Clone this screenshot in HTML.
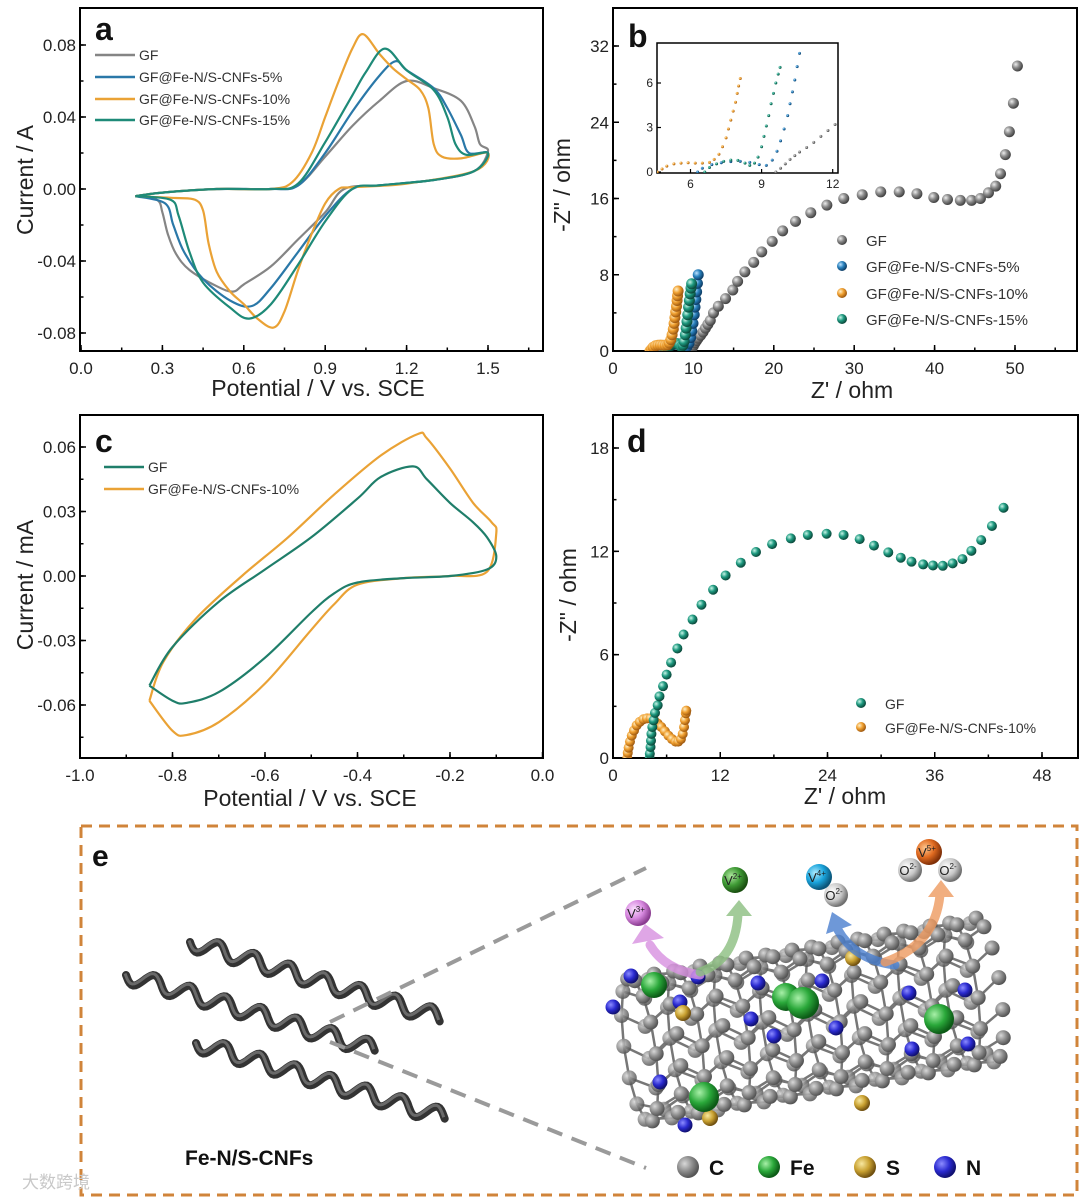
<!DOCTYPE html>
<html><head><meta charset="utf-8">
<style>
html,body{margin:0;padding:0;background:#fff;}
svg{display:block;font-family:"Liberation Sans",Arial,sans-serif;}
</style></head>
<body>
<svg id="fig" width="1080" height="1199" viewBox="0 0 1080 1199" xmlns="http://www.w3.org/2000/svg">
<defs>
<radialGradient id="g-gray" cx="35%" cy="35%" r="65%"><stop offset="0" stop-color="#eee"/><stop offset="0.5" stop-color="#8a8a8a"/><stop offset="1" stop-color="#444"/></radialGradient>
<radialGradient id="g-blue" cx="35%" cy="35%" r="65%"><stop offset="0" stop-color="#bfe3ff"/><stop offset="0.5" stop-color="#2a82be"/><stop offset="1" stop-color="#0d3d66"/></radialGradient>
<radialGradient id="g-orange" cx="35%" cy="35%" r="65%"><stop offset="0" stop-color="#fff0c8"/><stop offset="0.5" stop-color="#f0a030"/><stop offset="1" stop-color="#a05a10"/></radialGradient>
<radialGradient id="g-teal" cx="35%" cy="35%" r="65%"><stop offset="0" stop-color="#c8f5e8"/><stop offset="0.5" stop-color="#1e9a80"/><stop offset="1" stop-color="#0b4a3c"/></radialGradient>
<radialGradient id="g-c" cx="35%" cy="35%" r="65%"><stop offset="0" stop-color="#d8d8d8"/><stop offset="0.55" stop-color="#8c8c8c"/><stop offset="1" stop-color="#555"/></radialGradient>
<radialGradient id="g-n" cx="35%" cy="35%" r="65%"><stop offset="0" stop-color="#8c8cff"/><stop offset="0.55" stop-color="#2a2ad0"/><stop offset="1" stop-color="#101070"/></radialGradient>
<radialGradient id="g-fe" cx="35%" cy="35%" r="65%"><stop offset="0" stop-color="#a8f0a8"/><stop offset="0.55" stop-color="#2aa83a"/><stop offset="1" stop-color="#0c5a16"/></radialGradient>
<radialGradient id="g-s" cx="35%" cy="35%" r="65%"><stop offset="0" stop-color="#f8e8a0"/><stop offset="0.55" stop-color="#c8a030"/><stop offset="1" stop-color="#705010"/></radialGradient>
<radialGradient id="g-v3" cx="35%" cy="35%" r="65%"><stop offset="0" stop-color="#fbe0ff"/><stop offset="0.55" stop-color="#d88ae0"/><stop offset="1" stop-color="#8a3c90"/></radialGradient>
<radialGradient id="g-v2" cx="35%" cy="35%" r="65%"><stop offset="0" stop-color="#b0e8a0"/><stop offset="0.55" stop-color="#3f9a35"/><stop offset="1" stop-color="#1a5010"/></radialGradient>
<radialGradient id="g-v4" cx="35%" cy="35%" r="65%"><stop offset="0" stop-color="#b0ecff"/><stop offset="0.55" stop-color="#1aa4dc"/><stop offset="1" stop-color="#0a5478"/></radialGradient>
<radialGradient id="g-v5" cx="35%" cy="35%" r="65%"><stop offset="0" stop-color="#ffc890"/><stop offset="0.55" stop-color="#e06a20"/><stop offset="1" stop-color="#803008"/></radialGradient>
<radialGradient id="g-o" cx="35%" cy="35%" r="65%"><stop offset="0" stop-color="#ffffff"/><stop offset="0.6" stop-color="#c8c8c8"/><stop offset="1" stop-color="#707070"/></radialGradient>
<clipPath id="clipA"><rect x="80" y="8" width="463" height="343"/></clipPath>
<clipPath id="clipB"><rect x="613" y="8" width="464" height="343"/></clipPath>
<clipPath id="clipI"><rect x="657" y="43" width="181" height="130"/></clipPath>
<clipPath id="clipC"><rect x="80" y="415" width="463" height="343"/></clipPath>
<clipPath id="clipD"><rect x="613" y="415" width="465" height="343"/></clipPath>
</defs>
</svg>
<script>
// ---------- Panel a data (Potential V, Current A) ----------
const aGF = [[0.2,-0.004],[0.3,-0.002],[0.5,0.0],[0.7,0.0],[0.8,0.002],[0.9,0.018],[1.0,0.035],[1.1,0.049],[1.2,0.06],[1.3,0.056],[1.4,0.049],[1.45,0.035],[1.47,0.025],[1.5,0.021],[1.45,0.01],[1.3,0.005],[1.1,0.002],[0.97,0.0],[0.9,-0.013],[0.8,-0.028],[0.7,-0.043],[0.6,-0.053],[0.56,-0.057],[0.5,-0.054],[0.4,-0.045],[0.35,-0.036],[0.32,-0.025],[0.3,-0.013],[0.28,-0.006],[0.2,-0.004]];
const a5 = [[0.2,-0.004],[0.3,-0.002],[0.5,0.0],[0.7,0.0],[0.8,0.002],[0.9,0.02],[1.0,0.043],[1.1,0.063],[1.16,0.071],[1.2,0.066],[1.3,0.056],[1.35,0.045],[1.4,0.03],[1.43,0.02],[1.5,0.02],[1.45,0.01],[1.3,0.005],[1.1,0.002],[1.0,0.0],[0.9,-0.015],[0.8,-0.035],[0.7,-0.055],[0.63,-0.065],[0.55,-0.062],[0.45,-0.05],[0.38,-0.035],[0.34,-0.02],[0.31,-0.008],[0.2,-0.004]];
const a10 = [[0.2,-0.004],[0.3,-0.002],[0.5,0.0],[0.7,0.0],[0.78,0.004],[0.85,0.02],[0.9,0.04],[0.95,0.06],[1.0,0.078],[1.04,0.086],[1.1,0.075],[1.15,0.067],[1.2,0.061],[1.25,0.055],[1.28,0.045],[1.3,0.025],[1.33,0.018],[1.4,0.017],[1.5,0.02],[1.45,0.01],[1.2,0.003],[1.0,0.001],[0.95,0.0],[0.9,-0.008],[0.85,-0.025],[0.8,-0.045],[0.75,-0.068],[0.71,-0.077],[0.65,-0.072],[0.6,-0.064],[0.55,-0.057],[0.5,-0.046],[0.47,-0.03],[0.45,-0.012],[0.42,-0.006],[0.35,-0.005],[0.2,-0.004]];
const a15 = [[0.2,-0.004],[0.3,-0.002],[0.5,0.0],[0.7,0.0],[0.8,0.003],[0.9,0.026],[1.0,0.052],[1.05,0.065],[1.12,0.078],[1.2,0.066],[1.3,0.055],[1.35,0.04],[1.38,0.025],[1.42,0.019],[1.5,0.02],[1.45,0.01],[1.3,0.005],[1.1,0.002],[1.0,0.0],[0.9,-0.018],[0.8,-0.042],[0.7,-0.064],[0.62,-0.072],[0.55,-0.066],[0.45,-0.052],[0.4,-0.035],[0.36,-0.015],[0.33,-0.006],[0.2,-0.004]];
const aXTicks = [0.0,0.3,0.6,0.9,1.2,1.5];
const aYTicks = [-0.08,-0.04,0.0,0.04,0.08];
const aXLabels = ["0.0","0.3","0.6","0.9","1.2","1.5"];
const aYLabels = ["-0.08","-0.04","0.00","0.04","0.08"];

// ---------- Panel b data (Z' ohm, -Z'' ohm) ----------
const bGF = [[9.6,0],[9.8,0.25],[10.0,0.55],[10.2,0.85],[10.4,1.1],[10.6,1.35],[10.9,1.65],[11.2,2.0],[11.5,2.4],[11.8,2.8],[12.1,3.2],[12.5,4.0],[13.1,4.7],[14.0,5.5],[14.9,6.4],[15.5,7.3],[16.4,8.3],[17.5,9.3],[18.5,10.4],[19.8,11.5],[21.1,12.6],[22.7,13.6],[24.6,14.5],[26.6,15.3],[28.7,16.0],[31.0,16.4],[33.3,16.7],[35.6,16.7],[37.8,16.5],[39.9,16.1],[41.6,15.9],[43.2,15.8],[44.6,15.8],[45.7,16.0],[46.7,16.6],[47.6,17.3],[48.2,18.6],[48.8,20.6],[49.3,23.0],[49.8,26.0],[50.3,29.9]];
const b5 = [[6.3,0],[6.5,0.25],[6.9,0.5],[7.3,0.62],[7.7,0.7],[8.1,0.72],[8.5,0.65],[8.9,0.5],[9.2,0.45],[9.45,0.8],[9.65,1.4],[9.8,2.1],[9.95,2.9],[10.1,3.8],[10.2,4.6],[10.3,5.4],[10.4,6.2],[10.5,7.1],[10.6,8.0]];
const b10 = [[4.6,0],[4.8,0.2],[5.0,0.4],[5.3,0.55],[5.6,0.6],[5.9,0.62],[6.2,0.6],[6.5,0.6],[6.8,0.65],[7.0,0.85],[7.2,1.2],[7.35,1.7],[7.5,2.3],[7.6,2.9],[7.7,3.5],[7.8,4.1],[7.9,4.7],[7.97,5.3],[8.03,5.8],[8.1,6.3]];
const b15 = [[6.6,0],[6.8,0.3],[7.1,0.55],[7.4,0.72],[7.7,0.8],[8.0,0.78],[8.3,0.6],[8.5,0.45],[8.7,0.6],[8.85,1.0],[9.0,1.7],[9.1,2.4],[9.2,3.1],[9.3,3.8],[9.4,4.6],[9.5,5.3],[9.6,6.0],[9.7,6.6],[9.78,7.05]];
const bXTicks = [0,10,20,30,40,50];
const bYTicks = [0,8,16,24,32];
const bInsetXTicks = [6,9,12];
const bInsetYTicks = [0,3,6];

// ---------- Panel c data (Potential V, Current mA) ----------
const cGF = [[-0.85,-0.051],[-0.8,-0.058],[-0.77,-0.059],[-0.7,-0.054],[-0.6,-0.038],[-0.5,-0.017],[-0.45,-0.008],[-0.4,-0.003],[-0.3,-0.001],[-0.2,0.0],[-0.12,0.003],[-0.1,0.009],[-0.12,0.018],[-0.15,0.025],[-0.2,0.034],[-0.25,0.045],[-0.28,0.051],[-0.35,0.046],[-0.4,0.036],[-0.5,0.018],[-0.6,0.003],[-0.7,-0.012],[-0.8,-0.033],[-0.85,-0.051]];
const c10 = [[-0.85,-0.058],[-0.8,-0.072],[-0.77,-0.074],[-0.7,-0.068],[-0.6,-0.05],[-0.5,-0.025],[-0.45,-0.013],[-0.4,-0.004],[-0.3,-0.001],[-0.2,0.0],[-0.12,0.002],[-0.1,0.02],[-0.11,0.025],[-0.15,0.034],[-0.2,0.05],[-0.25,0.064],[-0.27,0.066],[-0.35,0.056],[-0.45,0.038],[-0.55,0.018],[-0.65,0.0],[-0.75,-0.02],[-0.82,-0.04],[-0.85,-0.058]];
const cXTicks = [-1.0,-0.8,-0.6,-0.4,-0.2,0.0];
const cYTicks = [-0.06,-0.03,0.0,0.03,0.06];
const cXLabels = ["-1.0","-0.8","-0.6","-0.4","-0.2","0.0"];
const cYLabels = ["-0.06","-0.03","0.00","0.03","0.06"];

// ---------- Panel d data ----------
const dGF = [[4.1,0],[4.12,0.25],[4.2,0.64],[4.25,1.0],[4.3,1.4],[4.4,1.8],[4.55,2.19],[4.7,2.62],[5.0,3.06],[5.2,3.58],[5.6,4.17],[6.0,4.84],[6.5,5.54],[7.2,6.36],[7.9,7.17],[8.9,8.04],[9.9,8.9],[11.2,9.77],[12.6,10.6],[14.3,11.34],[16.0,11.96],[17.8,12.42],[19.9,12.75],[21.8,12.95],[23.9,13.02],[25.8,12.95],[27.6,12.71],[29.2,12.33],[30.8,11.94],[32.2,11.63],[33.4,11.4],[34.7,11.24],[35.8,11.18],[36.9,11.16],[38.0,11.3],[39.1,11.55],[40.1,12.03],[41.2,12.65],[42.4,13.47],[43.7,14.53]];
const d10 = [[1.6,0],[1.65,0.3],[1.75,0.6],[1.9,0.95],[2.1,1.3],[2.35,1.6],[2.65,1.9],[3.0,2.1],[3.4,2.25],[3.8,2.3],[4.2,2.3],[4.6,2.2],[5.0,2.0],[5.4,1.8],[5.8,1.55],[6.2,1.3],[6.6,1.1],[7.0,0.95],[7.3,0.95],[7.6,1.1],[7.8,1.4],[7.95,1.8],[8.05,2.2],[8.15,2.6],[8.2,2.75]];
const dXTicks = [0,12,24,36,48];
const dYTicks = [0,6,12,18];

const NS = "http://www.w3.org/2000/svg";
const svg = document.getElementById('fig');
function mk(tag, attrs, parent){
  const e = document.createElementNS(NS, tag);
  for (const k in attrs) e.setAttribute(k, attrs[k]);
  (parent||svg).appendChild(e);
  return e;
}
function txt(str, attrs, parent){ const t = mk('text', attrs, parent); t.textContent = str; return t; }
function lin(d0,d1,r0,r1){ return v => r0 + (v-d0)*(r1-r0)/(d1-d0); }
function smoothPath(pts){
  let d = 'M'+pts[0][0].toFixed(1)+','+pts[0][1].toFixed(1);
  for (let i=0;i<pts.length-1;i++){
    const p0 = pts[Math.max(0,i-1)], p1 = pts[i], p2 = pts[i+1], p3 = pts[Math.min(pts.length-1,i+2)];
    const c1x = p1[0]+(p2[0]-p0[0])/6, c1y = p1[1]+(p2[1]-p0[1])/6;
    const c2x = p2[0]-(p3[0]-p1[0])/6, c2y = p2[1]-(p3[1]-p1[1])/6;
    d += ' C'+c1x.toFixed(1)+','+c1y.toFixed(1)+' '+c2x.toFixed(1)+','+c2y.toFixed(1)+' '+p2[0].toFixed(1)+','+p2[1].toFixed(1);
  }
  return d;
}

function drawAxes(name, box, sx, sy, xt, xl, xminorStep, yt, yl, yminorStep, fs){
  const g = mk('g', {});
  
  
  const r = mk('rect', {x:box[0], y:box[1], width:box[2]-box[0], height:box[3]-box[1], fill:'none', stroke:'#000', 'stroke-width':2}, g);
  
  
  // minor ticks
  const xmin = Math.min(...xt), xmax = Math.max(...xt);
  for (let v = xmin; v <= xmax + xminorStep*2 + 1e-9; v += xminorStep){
    const x = sx(v); if (x < box[0]-0.5 || x > box[2]-2) continue;
    mk('line', {x1:x, y1:box[3], x2:x, y2:box[3]-3.5, stroke:'#000', 'stroke-width':1.5}, g);
  }
  const ymin = Math.min(...yt), ymax = Math.max(...yt);
  for (let v = ymin - yminorStep*2; v <= ymax + yminorStep*2 + 1e-9; v += yminorStep){
    const y = sy(v); if (y > box[3]+0.5 || y < box[1]+2) continue;
    mk('line', {x1:box[0], y1:y, x2:box[0]+3.5, y2:y, stroke:'#000', 'stroke-width':1.5}, g);
  }
  xt.forEach((v,i)=>{
    const x = sx(v);
    mk('line', {x1:x, y1:box[3], x2:x, y2:box[3]-6, stroke:'#000', 'stroke-width':1.5}, g);
    const t = txt(xl[i], {x:x, y:box[3]+23, 'font-size':fs, 'text-anchor':'middle', fill:'#222'}, g);
    
    
  });
  yt.forEach((v,i)=>{
    const y = sy(v);
    mk('line', {x1:box[0], y1:y, x2:box[0]+6, y2:y, stroke:'#000', 'stroke-width':1.5}, g);
    const t = txt(yl[i], {x:box[0]-4, y:y+6, 'font-size':fs, 'text-anchor':'end', fill:'#222'}, g);
    
    
  });
  return g;
}
function axisTitle(str, x, y, rot, name){
  const t = txt(str, {x:x, y:y, 'font-size':23, 'text-anchor':'middle', fill:'#222', transform: rot ? 'rotate(-90 '+x+' '+y+')' : ''});
  
  
}
function panelLetter(str, x, y){
  const t = txt(str, {x:x, y:y, 'font-size':32, 'font-weight':'bold', fill:'#111'});
  
  
}
function cvLine(data, sx, sy, color, clip, name){
  const p = mk('path', {d: smoothPath(data.map(d=>[sx(d[0]), sy(d[1])])), fill:'none', stroke:color, 'stroke-width':2.2, 'clip-path':'url(#'+clip+')', 'stroke-linejoin':'round'});
  
  
}
function dots(data, sx, sy, grad, r, clip, name){
  const g = mk('g', {'clip-path':'url(#'+clip+')'});
  
  
  data.forEach(d=>{
    mk('circle', {cx:sx(d[0]), cy:sy(d[1]), r:r, fill:'url(#'+grad+')'}, g);
  });
}
function legendLine(x, y, color, label, name){
  const g = mk('g', {});
  
  
  mk('line', {x1:x, y1:y, x2:x+40, y2:y, stroke:color, 'stroke-width':2.5}, g);
  txt(label, {x:x+44, y:y+5, 'font-size':14, fill:'#333'}, g);
}
function legendDot(x, y, grad, label, name, fs){
  const g = mk('g', {});
  
  
  mk('circle', {cx:x, cy:y, r:5, fill:'url(#'+grad+')'}, g);
  txt(label, {x:x+24, y:y+6, 'font-size':fs, fill:'#333'}, g);
}

const colGray = '#858585', colBlue = '#2a78a8', colOrange = '#eaa235', colTeal = '#1e8a78';

// ===== Panel a =====
const ax = lin(0,1.5,81,488), ay = lin(0,0.08,189,45);
drawAxes('panel-a', [80,8,543,351], ax, ay, aXTicks, aXLabels, 0.15, aYTicks, aYLabels, 0.02, 17);
cvLine(aGF, ax, ay, colGray, 'clipA', 'cv-gf');
cvLine(a5, ax, ay, colBlue, 'clipA', 'cv-5pct');
cvLine(a10, ax, ay, colOrange, 'clipA', 'cv-10pct');
cvLine(a15, ax, ay, colTeal, 'clipA', 'cv-15pct');
legendLine(95, 55, colGray, 'GF', 'legend-a-gf');
legendLine(95, 77, colBlue, 'GF@Fe-N/S-CNFs-5%', 'legend-a-5pct');
legendLine(95, 99, colOrange, 'GF@Fe-N/S-CNFs-10%', 'legend-a-10pct');
legendLine(95, 120, colTeal, 'GF@Fe-N/S-CNFs-15%', 'legend-a-15pct');
axisTitle('Current / A', 33, 180, true, 'panel-a-y-axis-title');
axisTitle('Potential / V vs. SCE', 318, 396, false, 'panel-a-x-axis-title');
panelLetter('a', 95, 40);

// ===== Panel b =====
const bx = lin(0,50,613,1015), by = lin(0,32,351,46);
drawAxes('panel-b', [613,8,1077,351], bx, by, bXTicks, bXTicks.map(String), 5, bYTicks, bYTicks.map(String), 4, 17);
dots(bGF, bx, by, 'g-gray', 5.5, 'clipB', 'eis-b-gf');
dots(b5, bx, by, 'g-blue', 5.5, 'clipB', 'eis-b-5pct');
dots(b15, bx, by, 'g-teal', 5.5, 'clipB', 'eis-b-15pct');
dots(b10, bx, by, 'g-orange', 5.5, 'clipB', 'eis-b-10pct');
// inset
const ix = lin(6,12,690.5,832.7), iy = lin(0,6,172,83);
const ins = mk('rect', {x:657, y:43, width:181, height:130, fill:'#fff', stroke:'#000', 'stroke-width':1.5});


bInsetXTicks.forEach(v=>{
  mk('line', {x1:ix(v), y1:173, x2:ix(v), y2:169, stroke:'#000', 'stroke-width':1.2});
  const t = txt(String(v), {x:ix(v), y:188, 'font-size':12, 'text-anchor':'middle', fill:'#222'});
  
  
});
bInsetYTicks.forEach(v=>{
  mk('line', {x1:657, y1:iy(v), x2:661, y2:iy(v), stroke:'#000', 'stroke-width':1.2});
  const t = txt(String(v), {x:653, y:iy(v)+4, 'font-size':12, 'text-anchor':'end', fill:'#222'});
  
  
});
dots(bGF, ix, iy, 'g-gray', 1.5, 'clipI', 'inset-gf');
dots(b5, ix, iy, 'g-blue', 1.5, 'clipI', 'inset-5pct');
dots(b15, ix, iy, 'g-teal', 1.5, 'clipI', 'inset-15pct');
dots(b10, ix, iy, 'g-orange', 1.5, 'clipI', 'inset-10pct');
legendDot(842, 240, 'g-gray', 'GF', 'legend-b-gf', 15);
legendDot(842, 266, 'g-blue', 'GF@Fe-N/S-CNFs-5%', 'legend-b-5pct', 15);
legendDot(842, 293, 'g-orange', 'GF@Fe-N/S-CNFs-10%', 'legend-b-10pct', 15);
legendDot(842, 319, 'g-teal', 'GF@Fe-N/S-CNFs-15%', 'legend-b-15pct', 15);
axisTitle('-Z" / ohm', 570, 185, true, 'panel-b-y-axis-title');
axisTitle("Z' / ohm", 852, 398, false, 'panel-b-x-axis-title');
panelLetter('b', 628, 47);

// ===== Panel c =====
const cx = lin(-1,0,80,542.5), cy = lin(0,0.06,576,447);
drawAxes('panel-c', [80,415,543,758], cx, cy, cXTicks, cXLabels, 0.1, cYTicks, cYLabels, 0.015, 17);
cvLine(c10, cx, cy, colOrange, 'clipC', 'cv-c-10pct');
cvLine(cGF, cx, cy, '#1f7e6a', 'clipC', 'cv-c-gf');
legendLine(104, 467, '#1f7e6a', 'GF', 'legend-c-gf');
legendLine(104, 489, colOrange, 'GF@Fe-N/S-CNFs-10%', 'legend-c-10pct');
axisTitle('Current / mA', 33, 585, true, 'panel-c-y-axis-title');
axisTitle('Potential / V vs. SCE', 310, 806, false, 'panel-c-x-axis-title');
panelLetter('c', 95, 452);

// ===== Panel d =====
const dx = lin(0,48,613,1042), dy = lin(0,18,758,448);
drawAxes('panel-d', [613,415,1078,758], dx, dy, dXTicks, dXTicks.map(String), 6, dYTicks, dYTicks.map(String), 3, 17);
dots(d10, dx, dy, 'g-orange', 5, 'clipD', 'eis-d-10pct');
dots(dGF, dx, dy, 'g-teal', 5, 'clipD', 'eis-d-gf');
legendDot(861, 703, 'g-teal', 'GF', 'legend-d-gf', 14);
legendDot(861, 727, 'g-orange', 'GF@Fe-N/S-CNFs-10%', 'legend-d-10pct', 14);
axisTitle('-Z" / ohm', 576, 595, true, 'panel-d-y-axis-title');
axisTitle("Z' / ohm", 845, 804, false, 'panel-d-x-axis-title');
panelLetter('d', 627, 452);

// ===== Panel e (schematic) =====
const eg = mk('g', {});


const frame = mk('rect', {x:81, y:826, width:996, height:369, fill:'none', stroke:'#d0843a', 'stroke-width':3, 'stroke-dasharray':'11 7'}, eg);


txt('e', {x:92, y:866, 'font-size':30, 'font-weight':'bold', fill:'#111'}, eg);

// fibers
function fiber(x0,y0,x1,y1){
  const L = Math.hypot(x1-x0,y1-y0), ux=(x1-x0)/L, uy=(y1-y0)/L, nx=-uy, ny=ux;
  const pts=[];
  for(let s=0;s<=L;s+=2){ const a = 8*Math.sin(s/37*2*Math.PI); pts.push([x0+ux*s+nx*a, y0+uy*s+ny*a]); }
  const d = 'M'+pts.map(p=>p[0].toFixed(1)+','+p[1].toFixed(1)).join(' L');
  const f = mk('path', {d:d, fill:'none', stroke:'#333', 'stroke-width':8, 'stroke-linecap':'round'}, eg);
  
  
  mk('path', {d:d, fill:'none', stroke:'#6a6a6a', 'stroke-width':3, transform:'translate(-1,-1.5)'}, eg);
}
fiber(190,942,442,1018);
fiber(126,975,377,1050);
fiber(196,1043,447,1118);
// dashed zoom lines
mk('line', {x1:330, y1:1022, x2:646, y2:868, stroke:'#9a9a9a', 'stroke-width':4, 'stroke-dasharray':'16 10'}, eg);
mk('line', {x1:330, y1:1042, x2:646, y2:1168, stroke:'#9a9a9a', 'stroke-width':4, 'stroke-dasharray':'16 10'}, eg);
const fl = txt('Fe-N/S-CNFs', {x:185, y:1165, 'font-size':21, 'font-weight':'bold', fill:'#111'}, eg);



// nanotube lattice
const tube = mk('g', {}, eg);


const P0=[640,1050], P1=[985,990];
const TL = Math.hypot(P1[0]-P0[0],P1[1]-P0[1]);
const tux=(P1[0]-P0[0])/TL, tuy=(P1[1]-P0[1])/TL, tnx=-tuy, tny=tux;
const R = 72, rings = 16, per = 14;
const atoms=[];
for(let i=0;i<rings;i++){
  for(let j=0;j<per;j++){
    const th = (j + (i%2)*0.5)/per*2*Math.PI;
    const s = i/(rings-1)*TL;
    const off = R*Math.cos(th);
    const depth = Math.sin(th);
    const x = P0[0]+tux*s + tnx*off + tux*depth*14;
    const y = P0[1]+tuy*s + tny*off + tuy*depth*14 - depth*10;
    atoms.push({i,j,x,y,depth});
  }
}
function at(i,j){ return atoms[i*per + ((j%per)+per)%per]; }
const bonds = mk('g', {stroke:'#777', 'stroke-width':2.5}, tube);
for(let i=0;i<rings;i++){
  for(let j=0;j<per;j++){
    const a = at(i,j);
    if(i%2===0){ const b = at(i,j+1); mk('line',{x1:a.x,y1:a.y,x2:b.x,y2:b.y},bonds); }
    if(i<rings-1){ const b = at(i+1,j); mk('line',{x1:a.x,y1:a.y,x2:b.x,y2:b.y},bonds); }
  }
}
atoms.slice().sort((p,q)=>p.depth-q.depth).forEach(a=>{
  mk('circle', {cx:a.x, cy:a.y, r:7.5, fill:'url(#g-c)', opacity: a.depth<0?0.85:1}, tube);
});
const nPos=[[631,976],[613,1007],[680,1002],[698,977],[758,983],[751,1019],[774,1036],[822,981],[836,1028],[909,993],[965,990],[912,1049],[968,1044],[660,1082],[685,1125]];
nPos.forEach(p=>{ const c = mk('circle',{cx:p[0],cy:p[1],r:7.5,fill:'url(#g-n)'},tube);   });
const sPos=[[853,958],[683,1013],[710,1118],[862,1103]];
sPos.forEach(p=>{ const c = mk('circle',{cx:p[0],cy:p[1],r:8,fill:'url(#g-s)'},tube);   });
const fePos=[[654,985,13],[786,997,14],[803,1003,16],[939,1019,15],[704,1097,15]];
fePos.forEach(p=>{ const c = mk('circle',{cx:p[0],cy:p[1],r:p[2],fill:'url(#g-fe)'},tube);   });

// curved arrows
function arrow(d, head, color, name){
  const g = mk('g', {opacity:0.8}, eg);
  
  
  mk('path', {d:d, fill:'none', stroke:color, 'stroke-width':9, 'stroke-linecap':'round'}, g);
  mk('polygon', {points:head, fill:color}, g);
}
arrow('M700,975 Q665,970 650,945', '636,938 666,935 650,922'.replace(/(\d+),(\d+) (\d+),(\d+) (\d+),(\d+)/,'632,944 664,938 645,924'), '#d890e0', 'arrow-v3');
arrow('M700,972 Q735,960 738,915', '726,916 752,916 739,900', '#8cbf80', 'arrow-v2');
arrow('M895,965 Q855,960 838,930', '826,934 852,925 832,912', '#4a7fcf', 'arrow-v4');
arrow('M885,962 Q935,945 940,895', '928,897 954,897 941,880', '#ee9a60', 'arrow-v5');
// ions
function ion(x,y,r,grad,label,name){
  const g = mk('g', {}, eg);
  
  
  mk('circle', {cx:x, cy:y, r:r, fill:'url(#'+grad+')'}, g);
  const t = txt(label, {x:x, y:y+5, 'font-size':13, 'text-anchor':'middle', fill:'#222', 'font-weight':'bold'}, g);
  const sup = mk('tspan', {'font-size':8, dy:-5}, t);
}
function ionLabel(x,y,r,grad,base,sup,name){
  const g = mk('g', {}, eg);
  
  
  mk('circle', {cx:x, cy:y, r:r, fill:'url(#'+grad+')'}, g);
  const t = txt('', {x:x-2, y:y+5, 'font-size':13, 'text-anchor':'middle', fill:'#222'}, g);
  const a = mk('tspan', {}, t); a.textContent = base;
  const b = mk('tspan', {'font-size':8, dy:-6}, t); b.textContent = sup;
}
ionLabel(638,913,13,'g-v3','V','3+','ion-v3');
ionLabel(735,880,13,'g-v2','V','2+','ion-v2');
ionLabel(836,895,12,'g-o','O','2-','ion-o-v4');
ionLabel(819,877,13,'g-v4','V','4+','ion-v4');
ionLabel(910,870,12,'g-o','O','2-','ion-o1-v5');
ionLabel(950,870,12,'g-o','O','2-','ion-o2-v5');
ionLabel(929,852,13,'g-v5','V','5+','ion-v5');

// atom legend
const atomLegend = [['g-c','C',688],['g-fe','Fe',769],['g-s','S',865],['g-n','N',945]];
atomLegend.forEach(a=>{
  const g = mk('g', {}, eg);
  
  
  mk('circle', {cx:a[2], cy:1167, r:11, fill:'url(#'+a[0]+')'}, g);
  txt(a[1], {x:a[2]+21, y:1175, 'font-size':21, 'font-weight':'bold', fill:'#111'}, g);
});
const wm = txt('大数跨境', {x:22, y:1188, 'font-size':17, fill:'#c8c8c8', 'font-family':'"Liberation Sans","Noto Sans CJK SC",sans-serif'});


</script>
</body></html>
